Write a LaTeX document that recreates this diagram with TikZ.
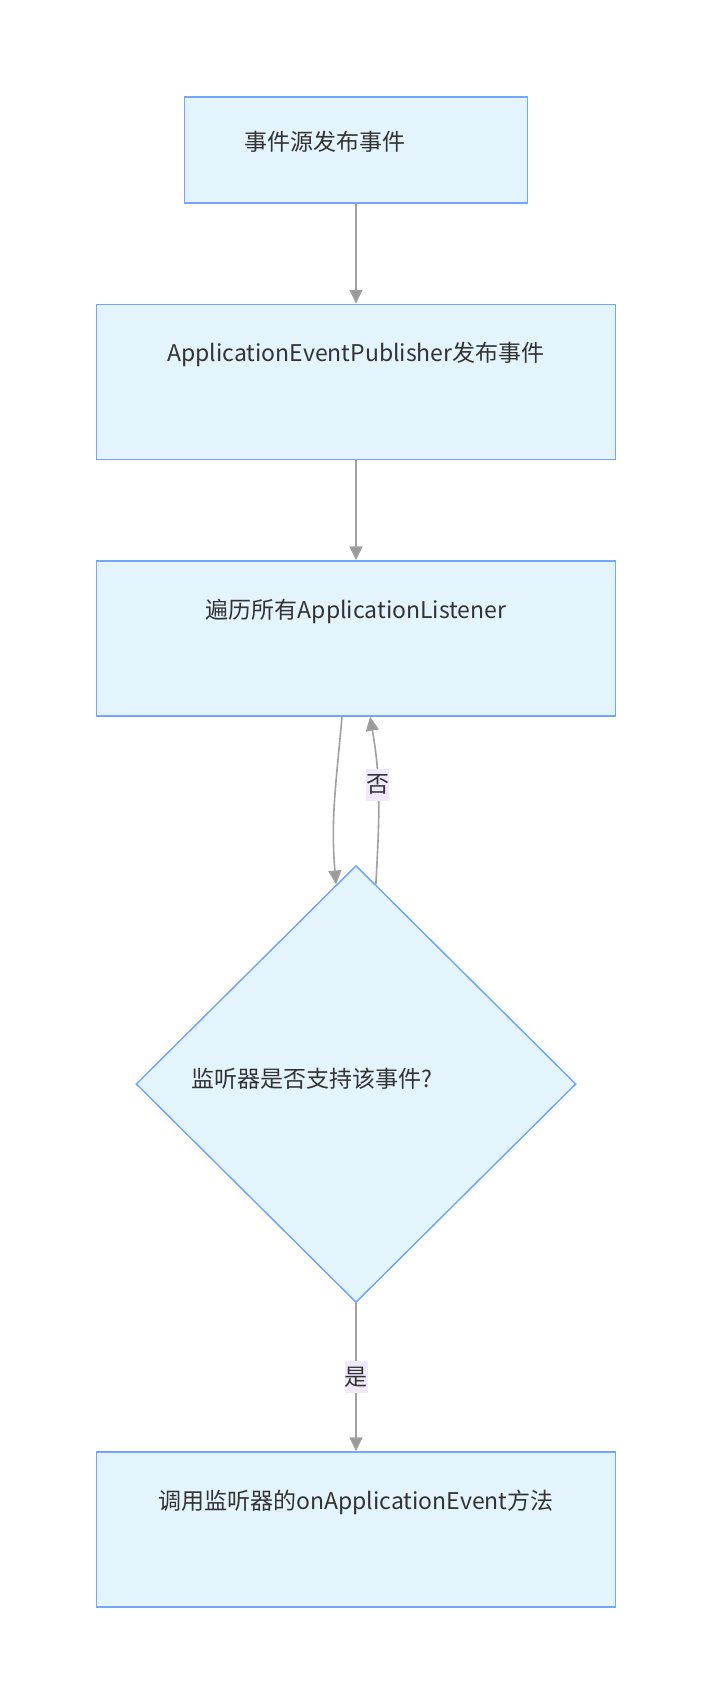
\documentclass[tikz,border=0pt]{standalone}
\usepackage{fontspec}
\setmainfont{Noto Sans CJK SC}
\usetikzlibrary{
  positioning,
  shapes.geometric,
  arrows.meta,
  calc
}
\definecolor{boxFill}{HTML}{E3F4FD}
\definecolor{boxDraw}{HTML}{74A7FB}
\definecolor{lineGray}{HTML}{A0A0A0}
\definecolor{tipGray}{HTML}{9A9A9A}
\definecolor{labelLilac}{HTML}{F1E9FB}
\definecolor{textDark}{HTML}{333333}
\tikzset{
  base/.style={
    draw=boxDraw, fill=boxFill, line width=1.5pt, text=textDark,
    font=\fontsize{23pt}{28pt}\selectfont, inner sep=0pt
  },
  startBox/.style={
    base, rectangle, minimum width=343pt, minimum height=106pt,
    text width=223pt, align=left, text height=20pt, text depth=19pt
  },
  stepBox/.style={
    base, rectangle, minimum width=519pt, minimum height=155pt,
    align=center, text height=20pt, text depth=61pt
  },
  checkNode/.style={
    base, diamond, aspect=1, minimum width=440pt, minimum height=437pt,
    text width=330pt, align=left, text height=20pt, text depth=14pt
  },
  flowLine/.style={
    draw=lineGray, line width=1.6pt,
    -{Triangle[length=14pt,width=13pt,fill=tipGray]}
  },
  edgeLabel/.style={
    fill=labelLilac, text=textDark, font=\fontsize{23pt}{28pt}\selectfont,
    inner xsep=0pt, inner ysep=6pt
  }
}

\begin{document}
\begin{tikzpicture}[x=1pt, y=1pt, node distance=100pt]

\useasboundingbox (0,0) rectangle (712,-1703);

% ── Nodes ──────────────────────────────────────────────────────────
\node[startBox] (src) at (356,-150) {事件源发布事件};
\node[stepBox, below=of src]  (pub)  {ApplicationEventPublisher发布事件};
\node[stepBox, below=of pub]  (scan) {遍历所有ApplicationListener};
\node[checkNode, below=148pt of scan] (check) {监听器是否支持该事件?};
\node[stepBox, below=148pt of check]  (call)  {调用监听器的onApplicationEvent方法};

% ── Edges ──────────────────────────────────────────────────────────
\draw[flowLine] (src.south) -- (pub.north);
\draw[flowLine] (pub.south) -- (scan.north);

% loop between listener scan and check
\draw[flowLine] ([xshift=-14pt]scan.south)
  to[out=265, in=95] ($(check.north)!0.09!(check.west)$);
\draw[flowLine] ($(check.north)!0.09!(check.east)$)
  to[out=87, in=-80] node[edgeLabel, pos=0.6] {否}
  ([xshift=14pt]scan.south);

\draw[flowLine] (check.south) -- (call.north)
  node[edgeLabel, midway] {是};

\end{tikzpicture}
\end{document}
